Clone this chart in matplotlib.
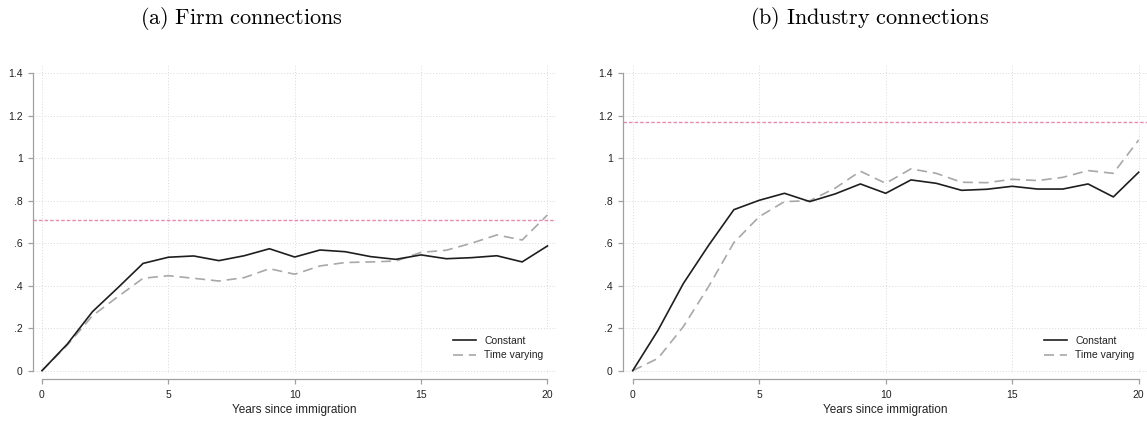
import matplotlib
matplotlib.use("Agg")
import matplotlib.pyplot as plt
import numpy as np

# Years since immigration
years = np.arange(0, 21)

# (a) Firm connections
firm_constant = [0, 0.125, 0.278, 0.39, 0.505, 0.534, 0.54, 0.518, 0.541, 0.574, 0.535,
                 0.568, 0.56, 0.537, 0.524, 0.545, 0.527, 0.532, 0.541, 0.512, 0.587]
firm_varying = [0, 0.12, 0.259, 0.348, 0.435, 0.447, 0.435, 0.422, 0.438, 0.48, 0.454,
                0.493, 0.509, 0.512, 0.516, 0.557, 0.567, 0.6, 0.639, 0.615, 0.733]
firm_ref = 0.708

# (b) Industry connections
ind_constant = [0, 0.19, 0.41, 0.59, 0.758, 0.802, 0.835, 0.796, 0.832, 0.879, 0.835,
                0.898, 0.882, 0.849, 0.854, 0.868, 0.855, 0.855, 0.879, 0.818, 0.934]
ind_varying = [0, 0.058, 0.207, 0.396, 0.603, 0.725, 0.796, 0.80, 0.859, 0.939, 0.882,
               0.95, 0.929, 0.887, 0.885, 0.901, 0.895, 0.91, 0.942, 0.929, 1.086]
ind_ref = 1.169

titles = [r"$\mathrm{(a)\ Firm\ connections}$", r"$\mathrm{(b)\ Industry\ connections}$"]
yticks = [0, 0.2, 0.4, 0.6, 0.8, 1.0, 1.2, 1.4]
ytick_labels = ["0", ".2", ".4", ".6", ".8", "1", "1.2", "1.4"]
xticks = [0, 5, 10, 15, 20]

plt.rcParams["font.family"] = ["Liberation Sans", "DejaVu Sans"]
plt.rcParams["mathtext.fontset"] = "cm"

W, H = 1147, 421
fig = plt.figure(figsize=(W / 100, H / 100), dpi=100)

# axes boxes in pixels: left, right, top, bottom
boxes = [(33, 556, 65, 373), (623, 1147, 65, 373)]
xlims = [(-0.356, 20.34), (-0.384, 20.33)]
title_x = [241, 870]
series = [(firm_constant, firm_varying, firm_ref), (ind_constant, ind_varying, ind_ref)]

for k in range(2):
    l, r, t, b = boxes[k]
    ax = fig.add_axes([l / W, 1 - b / H, (r - l) / W, (b - t) / H])
    c, v, ref = series[k]
    ax.axhline(ref, color="#e889b0", lw=1.0, ls=(0, (2.5, 1.5)), zorder=1)
    ax.plot(years, c, color="#1e1e1e", lw=1.2, label="Constant", zorder=3)
    ax.plot(years, v, color="#a8a8a8", lw=1.2, ls=(0, (6, 3.5)), label="Time varying", zorder=2)
    ax.set_xlim(*xlims[k])
    ax.set_ylim(-0.011, 1.439)
    ax.set_xticks(xticks)
    ax.set_yticks(yticks)
    ax.set_yticklabels(ytick_labels)
    ax.grid(True, color="#d9d9d9", ls=(0, (1, 2)), lw=0.7)
    ax.set_axisbelow(True)
    for s in ["top", "right"]:
        ax.spines[s].set_visible(False)
    ax.spines["left"].set_bounds(0, 1.4)
    ax.spines["bottom"].set_bounds(0, 20)
    ax.spines["bottom"].set_position(("outward", 4.5))
    for s in ["left", "bottom"]:
        ax.spines[s].set_color("#a0a0a0")
        ax.spines[s].set_linewidth(0.9)
    ax.tick_params(colors="#a0a0a0", labelcolor="#222222", labelsize=7.5, length=3.5, width=0.9, pad=4)
    ax.set_xlabel("Years since immigration", fontsize=8.5, color="#222222", labelpad=3)
    leg = ax.legend(loc="lower right", bbox_to_anchor=(1.0, 0.0), fontsize=7.5, frameon=True,
                    facecolor="white", edgecolor="none", framealpha=1, fancybox=False,
                    handlelength=2.2, handletextpad=0.8, labelspacing=0.45, borderpad=0.7)
    for txt in leg.get_texts():
        txt.set_color("#222222")
    fig.text(title_x[k] / W, 1 - 19 / H, titles[k], ha="center", va="center", fontsize=16)

fig.savefig("out.png", dpi=100)
